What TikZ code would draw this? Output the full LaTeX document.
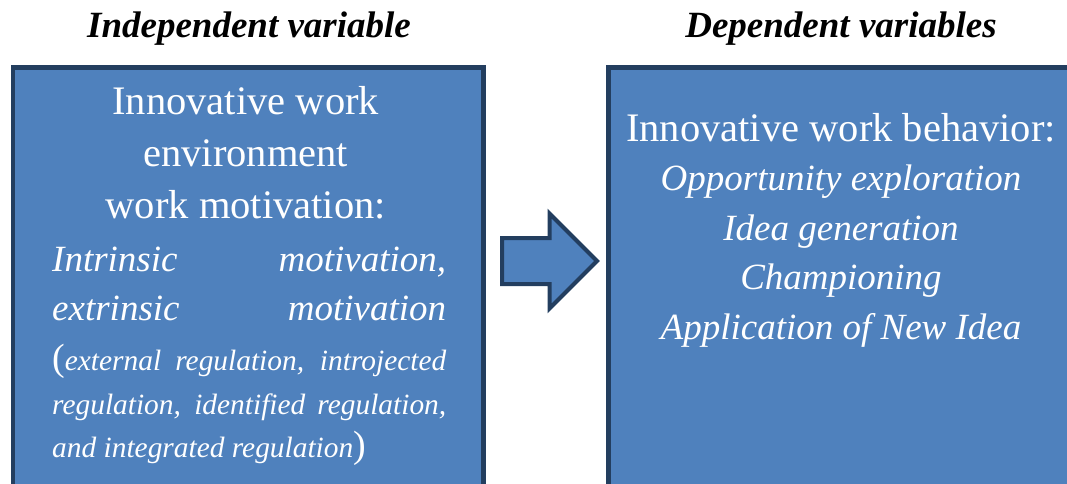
\documentclass[tikz,border=0pt]{standalone}
\usepackage{fontspec}
\setmainfont{Liberation Serif}
\usetikzlibrary{positioning,shapes.arrows}
\definecolor{boxfill}{HTML}{4F81BD}
\definecolor{boxline}{HTML}{233E5F}
\tikzset{
  varbox/.style={draw=boxline, line width=4.5pt, fill=boxfill, rectangle, inner sep=0pt},
  heading/.style={font=\fontsize{37}{40}\selectfont\bfseries\itshape, anchor=base, inner sep=0pt},
  bigtext/.style={text=white, font=\fontsize{40.5}{50}\selectfont, anchor=base, inner sep=0pt},
  bigitalic/.style={bigtext, font=\fontsize{37}{50}\selectfont\itshape},
  smalltext/.style={text=white, font=\fontsize{29.4}{40}\selectfont\itshape, anchor=base west, inner sep=0pt},
  bigarrow/.style={single arrow, draw=boxline, fill=boxfill, line width=4pt, inner xsep=0pt, inner ysep=21pt,
    minimum height=95pt, single arrow head extend=24.5pt}
}
% one justified line of the given width
\newcommand{\jline}[2]{\makebox[#1][s]{#2}}

\begin{document}
\begin{tikzpicture}[x=1pt, y=-1pt]
  \useasboundingbox (0,0) rectangle (1067,483);
  \clip (0,0) rectangle (1067,483);
  % the two boxes run past the lower edge
  \node[varbox, minimum width=470.5pt, minimum height=460pt, anchor=north west] (ivbox) at (10.5,65) {};
  \node[varbox, minimum width=470pt, minimum height=460pt, anchor=north west] (dvbox) at (606,65) {};
  \node[bigarrow, anchor=tail] (link) at (500,261) {};

  \node[heading] (ivtitle) at (249,37) {Independent variable};
  \node[heading] (dvtitle) at (841,37) {Dependent variables};

  % independent variable
  \foreach \txt [count=\i] in {Innovative work, environment, work motivation:}
    \node[bigtext] (ivline\i) at (245.75,114+52*\i-52) {\txt};
  \node[bigitalic, anchor=base west] (ivmot1) at (52,271) {\jline{394pt}{Intrinsic motivation,}};
  \node[bigitalic, anchor=base west] (ivmot2) at (52,320) {\jline{394pt}{extrinsic motivation}};
  \node[smalltext] (ivreg1) at (52,370) {\jline{394pt}{\upshape\fontsize{38}{40}\selectfont(\itshape\fontsize{29.4}{40}\selectfont external regulation, introjected}};
  \node[smalltext] (ivreg2) at (52,414) {\jline{394pt}{regulation, identified regulation,}};
  \node[smalltext] (ivreg3) at (52,457) {and integrated regulation\upshape\fontsize{38}{40}\selectfont)};

  % dependent variables
  \node[bigtext] (dvhead) at (841,141) {Innovative work behavior:};
  \foreach \txt [count=\i] in {Opportunity exploration, Idea generation, Championing, Application of New Idea}
    \node[bigitalic] (dvline\i) at (841,141+49.5*\i) {\txt};
\end{tikzpicture}
\end{document}
